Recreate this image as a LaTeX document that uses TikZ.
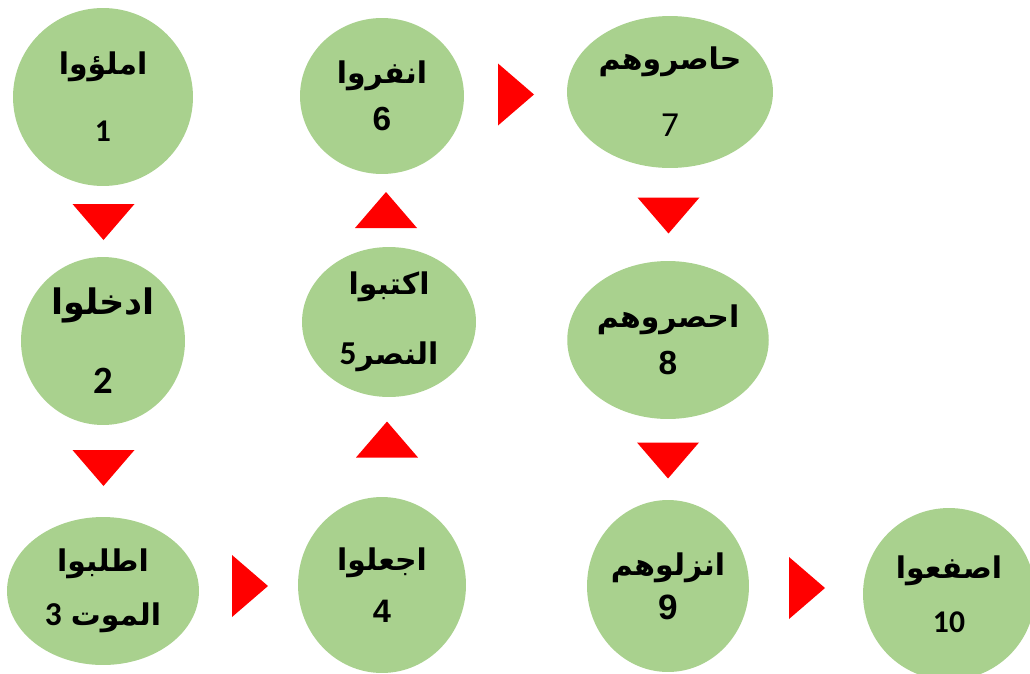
\documentclass[tikz,border=0pt]{standalone}
\usepackage{fontspec}
\usepackage{tikz}
\usetikzlibrary{shapes.geometric}
\TeXXeTstate=1
\newfontfamily\arabicfont[Script=Arabic]{DejaVu Sans}
\newfontfamily\numfont{Carlito}
\newfontfamily\arialnum{Liberation Sans}
\definecolor{leaf}{HTML}{A9D18E}
\definecolor{pointred}{HTML}{FF0000}
\newcommand{\artext}[1]{{\arabicfont\bfseries\beginR #1\endR}}
\newcommand{\downtri}[2]{\fill[redtri] (#1-31,#2-18) -- (#1+31,#2-18) -- (#1,#2+18) -- cycle;}
\newcommand{\uptri}[2]{\fill[redtri] (#1-31,#2+18) -- (#1+31,#2+18) -- (#1,#2-18) -- cycle;}
\newcommand{\righttri}[2]{\fill[redtri] (#1-18,#2-31) -- (#1-18,#2+31) -- (#1+18,#2) -- cycle;}
\tikzset{
  blob/.style={ellipse, fill=leaf, inner sep=0pt, align=center,
    font=\fontsize{17}{20}\selectfont},
  redtri/.style={fill=pointred}
}
\begin{document}
\begin{tikzpicture}[x=0.02cm, y=-0.02cm]
  \useasboundingbox (0,0) rectangle (1030,673);
  \clip (0,0) rectangle (1030,673);
  % first column
  \node[blob, minimum width=3.6cm, minimum height=3.56cm] (e1) at (103,97)
    {\artext{املؤوا}\\[18pt]{\numfont\bfseries\fontsize{18}{20}\selectfont 1}};
  \node[blob, minimum width=3.28cm, minimum height=3.36cm,
    font=\fontsize{20}{22}\selectfont] (e2) at (103,341)
    {\artext{ادخلوا}\\[23pt]{\numfont\bfseries\fontsize{22}{24}\selectfont 2}};
  \node[blob, minimum width=3.84cm, minimum height=2.96cm] (e3) at (103,591)
    {\artext{اطلبوا}\\[11pt]{\numfont\bfseries\fontsize{19}{20}\selectfont 3} \artext{الموت}};
  % second column
  \node[blob, minimum width=3.36cm, minimum height=3.52cm] (e4) at (382,585)
    {\artext{اجعلوا}\\[10pt]{\arialnum\bfseries\fontsize{18.5}{20}\selectfont 4}};
  \node[blob, minimum width=3.48cm, minimum height=3.0cm] (e5) at (389,322)
    {\artext{اكتبوا}\\[20pt]{\numfont\bfseries\fontsize{19}{20}\selectfont 5}\artext{النصر}};
  \node[blob, minimum width=3.28cm, minimum height=3.12cm] (e6) at (382,96)
    {\artext{انفروا}\\[7pt]{\arialnum\bfseries\fontsize{19}{20}\selectfont 6}};
  % third column
  \node[blob, minimum width=4.12cm, minimum height=3.04cm] (e7) at (670,92)
    {\artext{حاصروهم}\\[18pt]{\numfont\fontsize{20}{22}\selectfont 7}};
  \node[blob, minimum width=3.4cm, minimum height=3.16cm] (e8) at (668,340)
    {\artext{احصروهم}\\[7pt]{\arialnum\bfseries\fontsize{19}{20}\selectfont 8}};
  \node[blob, minimum width=3.24cm, minimum height=3.44cm] (e9) at (668,586)
    {\artext{انزلوهم}\\[5pt]{\arialnum\bfseries\fontsize{20}{22}\selectfont 9}};
  \node[blob, minimum width=3.44cm, minimum height=3.44cm] (e10) at (949,594)
    {\artext{اصفعوا}\\[11pt]{\numfont\bfseries\fontsize{18}{20}\selectfont 10}};
  % pointers
  \downtri{103.5}{222}
  \downtri{103.5}{468}
  \righttri{250}{586}
  \uptri{387}{439.5}
  \uptri{386}{210}
  \righttri{516}{94.5}
  \downtri{668.5}{215.5}
  \downtri{668}{460.5}
  \righttri{807}{588}
\end{tikzpicture}
\end{document}
